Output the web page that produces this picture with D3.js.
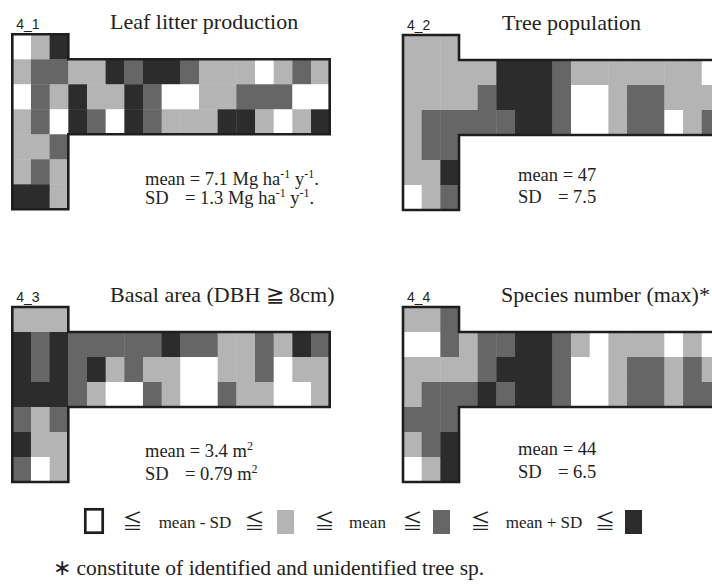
<!DOCTYPE html>
<html lang="en">
<head>
    <meta charset="UTF-8">
    <title>Plot maps</title>
    <script src="https://d3js.org/d3.v7.min.js"></script>
    <style>
        body { margin: 0; background: #fff; }
        svg text { font-family: "Liberation Serif", "Times New Roman", serif; fill: #222; }
        .pid { font-family: "Liberation Sans", Arial, sans-serif; font-size: 14px; }
        .le { font-family: "Noto Sans CJK JP", "DejaVu Sans", sans-serif; }
    </style>
</head>
<body>
<div id="chart"></div>
<script>
// class of each cell: 0 = <= mean-SD, 1 = <= mean, 2 = <= mean+SD, 3 = above
// rows 0 and 4-6 are the 3-column arm, rows 1-3 are the full 17 columns
const leafLitter = [
    [0,1,3],
    [1,2,2,1,1,3,2,3,3,2,1,1,1,0,1,2,1],
    [0,2,1,3,1,1,3,2,0,0,1,1,2,2,2,0,0],
    [1,2,0,3,2,0,3,2,1,1,1,3,3,1,0,1,3],
    [1,1,2],
    [1,2,1],
    [3,3,1]
];
const treePopulation = [
    [1,1,1],
    [1,1,1,1,1,3,3,3,2,1,1,1,1,1,1,1,0],
    [1,1,1,1,2,3,3,3,2,0,0,1,2,2,1,1,1],
    [1,2,2,2,2,2,3,3,2,0,0,1,2,2,0,1,2],
    [1,2,2],
    [1,1,3],
    [0,1,2]
];
const basalArea = [
    [1,1,1],
    [3,2,3,2,2,2,2,2,3,2,2,1,1,2,1,3,2],
    [3,2,3,2,3,1,2,1,1,0,0,1,1,2,0,1,1],
    [3,3,3,2,1,0,0,2,1,0,0,2,1,1,0,0,1],
    [2,1,2],
    [3,1,1],
    [2,0,1]
];
const speciesNumber = [
    [1,1,2],
    [0,0,2,1,2,2,3,3,2,1,0,1,1,1,0,1,0],
    [1,1,1,1,2,3,3,3,2,0,0,1,2,2,1,2,1],
    [1,2,2,2,3,2,3,3,2,0,0,1,2,2,1,2,2],
    [2,2,2],
    [1,2,3],
    [0,1,3]
];

const panelIds = ["4_1", "4_2", "4_3", "4_4"];
const panelTitles = ["Leaf litter production", "Tree population", "Basal area (DBH \u2267 8cm)", "Species number (max)*"];
const meanValues = ["7.1", "47", "3.4", "44"];
const sdValues = ["1.3", "7.5", "0.79", "6.5"];
// unit pieces: [text, superscript?]
const units = [
    [[" Mg ha", false], ["-1", true], [" y", false], ["-1", true], [".", false]],
    [],
    [[" m", false], ["2", true]],
    []
];
const grids = [leafLitter, treePopulation, basalArea, speciesNumber];
const legendLabels = ["mean - SD", "mean", "mean + SD"];
const footnote = "\u2217 constitute of identified and unidentified tree sp.";

const W = 712, H = 584;
const nCols = 17, nRows = 7, armCols = 3;
const cw = 18.67, ch = 25;
const origins = [[12.3, 34.3], [403, 35], [12.3, 307], [403, 307]];
const statPos = [[145, 185, 204], [518, 181, 203], [145, 457, 480], [518, 455, 478]];
const titleX = [110, 502, 110, 501];
const statSize = 18.5, supShift = 7;

const svg = d3.select("#chart").append("svg")
    .attr("width", W).attr("height", H);

const x = d3.scaleBand().domain(d3.range(nCols)).range([0, nCols * cw]);
const y = d3.scaleBand().domain(d3.range(nRows)).range([0, nRows * ch]);
const color = d3.scaleOrdinal().domain([0, 1, 2, 3])
    .range(["#ffffff", "#b4b4b4", "#666666", "#2c2c2c"]);

// T-shaped outline of the plot
function outline() {
    const p = d3.path();
    const x3 = x(armCols), x17 = x.range()[1];
    const y1 = y(1), y4 = y(4), y7 = y.range()[1];
    p.moveTo(0, 0); p.lineTo(x3, 0); p.lineTo(x3, y1); p.lineTo(x17, y1);
    p.lineTo(x17, y4); p.lineTo(x3, y4); p.lineTo(x3, y7); p.lineTo(0, y7);
    p.closePath();
    return p.toString();
}

// width of "mean " at stat font, to line up the "=" signs
const probe = svg.append("text").attr("font-size", statSize).text("mean ");
const meanW = probe.node().getComputedTextLength();
probe.remove();

grids.forEach(function(grid, i) {
    const g = svg.append("g")
        .attr("transform", "translate(" + origins[i][0] + "," + origins[i][1] + ")");

    const cells = [];
    grid.forEach(function(row, r) {
        row.forEach(function(v, c) { cells.push({ r: r, c: c, v: v }); });
    });

    g.selectAll("rect.cell")
        .data(cells)
        .enter().append("rect")
        .attr("class", "cell")
        .attr("x", function(d) { return x(d.c); })
        .attr("y", function(d) { return y(d.r); })
        .attr("width", x.bandwidth() + 0.4)
        .attr("height", y.bandwidth() + 0.4)
        .attr("fill", function(d) { return color(d.v); });

    g.append("path")
        .attr("d", outline())
        .attr("fill", "none")
        .attr("stroke", "#1e1e1e")
        .attr("stroke-width", 2.6);

    g.append("text")
        .attr("class", "pid")
        .attr("x", 4).attr("y", -5)
        .text(panelIds[i]);

    svg.append("text")
        .attr("x", titleX[i])
        .attr("y", origins[i][1] - 5)
        .attr("font-size", 22)
        .text(panelTitles[i]);

    // stats
    const sx = statPos[i][0];
    function addUnits(t) {
        let raised = false;
        units[i].forEach(function(u) {
            const ts = t.append("tspan").text(u[0]);
            if (u[1]) {
                ts.attr("font-size", 12).attr("dy", raised ? 0 : -supShift);
                raised = true;
            } else if (raised) {
                ts.attr("dy", supShift);
                raised = false;
            }
        });
    }
    const m = svg.append("text").attr("font-size", statSize)
        .attr("x", sx).attr("y", statPos[i][1]);
    m.append("tspan").text("mean = " + meanValues[i]);
    addUnits(m);

    const s = svg.append("text").attr("font-size", statSize)
        .attr("x", sx).attr("y", statPos[i][2]);
    s.append("tspan").text("SD");
    s.append("tspan").attr("x", sx + meanW).text("= " + sdValues[i]);
    addUnits(s);
});

// legend
const ly = 528;
svg.append("rect")
    .attr("x", 85.3).attr("y", 509.3).attr("width", 17.4).attr("height", 23.4)
    .attr("fill", color(0)).attr("stroke", "#1e1e1e").attr("stroke-width", 2.7);
[[277, 1], [433, 2], [625, 3]].forEach(function(b) {
    svg.append("rect")
        .attr("x", b[0]).attr("y", 510).attr("width", 17).attr("height", 24)
        .attr("fill", color(b[1]));
});
[132.5, 254.5, 324.5, 412.5, 480.5, 605].forEach(function(cx) {
    svg.append("text").attr("class", "le")
        .attr("x", cx).attr("y", ly + 1).attr("text-anchor", "middle")
        .attr("font-size", 20).text("\u2266");
});
[195, 367.5, 544].forEach(function(cx, k) {
    svg.append("text")
        .attr("x", cx).attr("y", ly).attr("text-anchor", "middle")
        .attr("font-size", 17).text(legendLabels[k]);
});

svg.append("text")
    .attr("x", 53).attr("y", 575)
    .attr("font-size", 21.5)
    .text(footnote);
</script>
</body>
</html>
